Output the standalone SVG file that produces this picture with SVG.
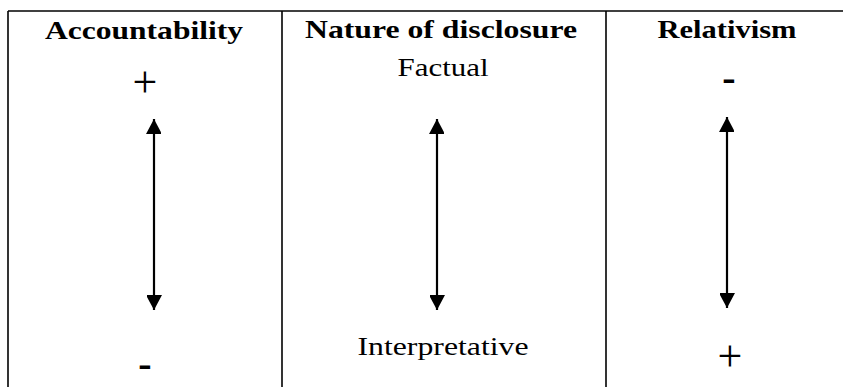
<svg xmlns="http://www.w3.org/2000/svg" width="843" height="387" viewBox="0 0 843 387">
  <defs>
    <style>
      .rule { stroke: #000; stroke-width: 1.6; fill: none; }
      .hdr { font-family: "Liberation Serif", "Times New Roman", serif; font-weight: bold; font-size: 25px; fill: #000; text-anchor: middle; }
      .lbl { font-family: "Liberation Serif", "Times New Roman", serif; font-size: 25px; fill: #000; text-anchor: middle; }
      .plus { font-family: "Liberation Serif", "Times New Roman", serif; font-size: 44px; fill: #000; text-anchor: middle; }
      .minus { font-family: "Liberation Serif", "Times New Roman", serif; font-weight: bold; font-size: 40px; fill: #000; text-anchor: middle; }
      .arrow { stroke: #000; stroke-width: 2.2; fill: none; marker-start: url(#head); marker-end: url(#head); }
    </style>
    <marker id="head" viewBox="0 0 16 15" refX="15" refY="8" markerWidth="16" markerHeight="15" markerUnits="userSpaceOnUse" orient="auto-start-reverse">
      <path d="M0,0 L15,8 L0,16 Z" fill="#000"/>
    </marker>
  </defs>

  <g id="table">
    <line class="rule" x1="8" y1="11" x2="843" y2="11"/>
    <line class="rule" x1="8" y1="11" x2="8" y2="387"/>
    <line class="rule" x1="282" y1="11" x2="282" y2="387"/>
    <line class="rule" x1="606" y1="11" x2="606" y2="387"/>
  </g>

  <g id="col-accountability">
    <text class="hdr" x="144" y="39" textLength="198" lengthAdjust="spacingAndGlyphs">Accountability</text>
    <text class="plus" x="145" y="97">+</text>
    <text class="minus" x="145" y="377">-</text>
  </g>

  <g id="col-nature">
    <text class="hdr" x="441" y="38" textLength="272" lengthAdjust="spacingAndGlyphs">Nature of disclosure</text>
    <text class="lbl" x="443" y="76" textLength="91" lengthAdjust="spacingAndGlyphs">Factual</text>
    <text class="lbl" x="443" y="355" textLength="171" lengthAdjust="spacingAndGlyphs">Interpretative</text>
  </g>

  <g id="col-relativism">
    <text class="hdr" x="727" y="38" textLength="139" lengthAdjust="spacingAndGlyphs">Relativism</text>
    <text class="minus" x="729" y="91">-</text>
    <text class="plus" x="730" y="371" font-size="50">+</text>
  </g>

  <g id="connectors">
    <line class="arrow" x1="154" y1="119" x2="154" y2="310"/>
    <line class="arrow" x1="437" y1="119" x2="437" y2="310"/>
    <line class="arrow" x1="727" y1="117" x2="727" y2="308"/>
  </g>
</svg>
